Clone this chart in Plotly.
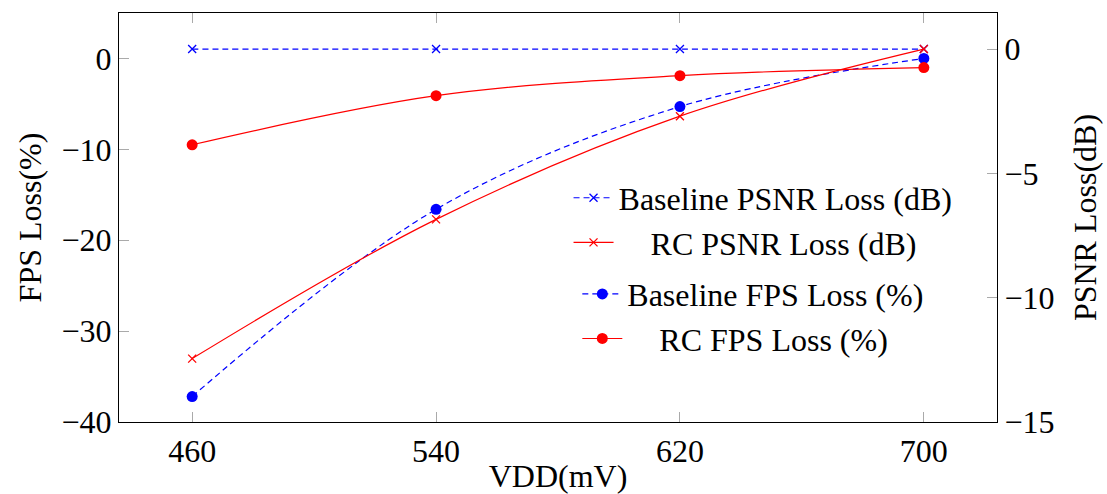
import plotly.graph_objects as go

vdd = [460, 540, 620, 700]
baseline_psnr = [0.0, 0.0, 0.0, 0.0]
rc_psnr = [-12.45, -6.85, -2.7, 0.0]
baseline_fps = [-37.2, -16.6, -5.3, 0.0]
rc_fps = [-9.5, -4.1, -1.9, -1.0]

FONT = "Liberation Serif"
FS = 32
BLUE = "#0000ff"
RED = "#ff0000"
NB = "\u00a0"

fig = go.Figure()
fig.add_trace(go.Scatter(x=vdd, y=baseline_psnr, yaxis="y2", name="Baseline PSNR Loss (dB)",
                         mode="lines+markers", line=dict(color=BLUE, width=1.2, dash="6px,4px", shape="spline"),
                         marker=dict(symbol="x-thin", size=8, line=dict(color=BLUE, width=1.3)), legend="legend"))
fig.add_trace(go.Scatter(x=vdd, y=rc_psnr, yaxis="y2", name=NB * 4 + "RC PSNR Loss (dB)",
                         mode="lines+markers", line=dict(color=RED, width=1.2, shape="spline", smoothing=1),
                         marker=dict(symbol="x-thin", size=8, line=dict(color=RED, width=1.3)), legend="legend"))
fig.add_trace(go.Scatter(x=vdd, y=baseline_fps, yaxis="y", name="Baseline FPS Loss (%)",
                         mode="lines+markers", line=dict(color=BLUE, width=1.2, dash="6px,4px", shape="spline", smoothing=1),
                         marker=dict(symbol="circle", size=11, color=BLUE), legend="legend2"))
fig.add_trace(go.Scatter(x=vdd, y=rc_fps, yaxis="y", name=NB * 4 + "RC FPS Loss (%)",
                         mode="lines+markers", line=dict(color=RED, width=1.2, shape="spline", smoothing=1),
                         marker=dict(symbol="circle", size=11, color=RED), legend="legend2"))

axis_common = dict(showgrid=False, zeroline=False, ticks="inside", ticklen=10, tickcolor="#aaaaaa",
                   tickwidth=1.2, showline=True, linecolor="black", linewidth=1.3, automargin=False,
                   tickfont=dict(family=FONT, size=FS, color="black"))

fig.update_layout(
    width=1107, height=494,
    margin=dict(l=119, r=110, t=13, b=72),
    paper_bgcolor="white", plot_bgcolor="white",
    font=dict(family=FONT, size=FS, color="black"),
    xaxis=dict(range=[436, 724], tickvals=vdd, mirror="ticks",
               title=dict(text="VDD(mV)", font=dict(family=FONT, size=FS), standoff=0), **axis_common),
    yaxis=dict(range=[-40, 5], tickvals=[-40, -30, -20, -10, 0],
               title=dict(text="FPS Loss(%)", font=dict(family=FONT, size=FS), standoff=10), **axis_common),
    yaxis2=dict(range=[-15, 1.45], tickvals=[-15, -10, -5, 0], overlaying="y", side="right",
                title=dict(text="PSNR Loss(dB)", font=dict(family=FONT, size=FS), standoff=20), **axis_common),
    legend=dict(x=0.512, y=0.615, xanchor="left", yanchor="top", bgcolor="rgba(0,0,0,0)",
                font=dict(family=FONT, size=FS), tracegroupgap=0, itemwidth=40),
    legend2=dict(x=0.522, y=0.38, xanchor="left", yanchor="top", bgcolor="rgba(0,0,0,0)",
                 font=dict(family=FONT, size=FS), tracegroupgap=0, itemwidth=40),
)

fig.write_html("out.html", config={"displayModeBar": False},
               post_script="document.body.style.margin='0';document.body.style.overflow='hidden';")
